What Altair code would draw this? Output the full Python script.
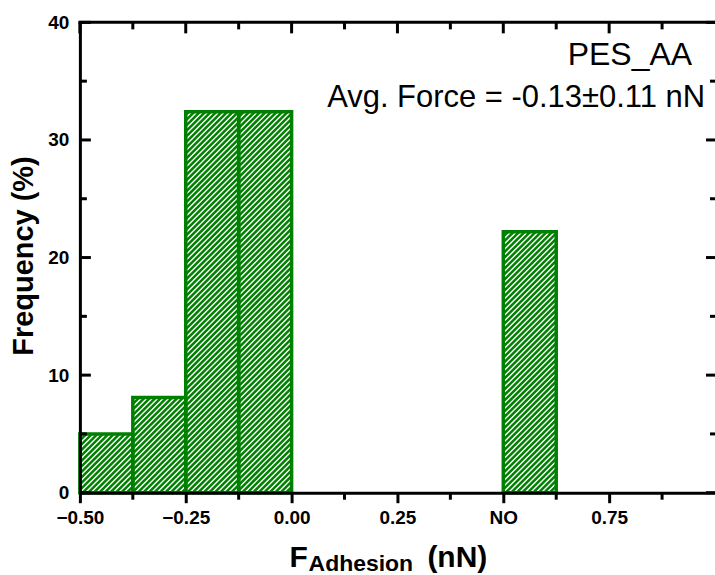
import altair as alt
import pandas as pd
import numpy as np

# ---- data ----
bin_start = [-0.5, -0.375, -0.25, -0.125, 0.5]
bin_end = [-0.375, -0.25, -0.125, 0.0, 0.625]
frequency = [5.0, 8.1, 32.4, 32.4, 22.2]

x_major = [-0.5, -0.25, 0.0, 0.25, 0.5, 0.75]
x_minor = [-0.375, -0.125, 0.125, 0.375, 0.625, 0.875]
y_major = [0, 10, 20, 30, 40]
y_minor = [5, 15, 25, 35]

sample_label = ["PES_AA"]
avg_label = ["Avg. Force = -0.13\u00b10.11 nN"]
y_title = ["Frequency (%)"]
x_title_main = ["F"]
x_title_sub = ["Adhesion"]
x_title_unit = ["(nN)"]

# ---- layout / style ----
W, H = 636, 471
XMIN, XMAX = -0.5, 1.0
YMIN, YMAX = 0, 40
GREEN = "#008000"
FONT = "Liberation Sans"

xs = alt.Scale(domain=[XMIN, XMAX], nice=False, zero=False)
ys = alt.Scale(domain=[YMIN, YMAX], nice=False, zero=False)

bars = pd.DataFrame({"start": bin_start, "end": bin_end, "freq": frequency})

# hatch pattern lines ("/" at 45 degrees in pixel space), clipped to each bar
px_x = W / (XMAX - XMIN)
px_y = H / (YMAX - YMIN)
period = 5.5
rows = []
for s, e, f in zip(bin_start, bin_end, frequency):
    X0 = (s - XMIN) * px_x
    X1 = (e - XMIN) * px_x
    Yh = f * px_y
    kmin = int(np.floor(-X1 / period))
    kmax = int(np.ceil((Yh - X0) / period))
    for k in range(kmin, kmax + 1):
        C = k * period
        a = max(X0, -C)
        b = min(X1, Yh - C)
        if b - a > 0.3:
            rows.append({"hx": a / px_x + XMIN, "hy": (a + C) / px_y,
                         "hx2": b / px_x + XMIN, "hy2": (b + C) / px_y})
hatch = pd.DataFrame(rows)

xmaj = pd.DataFrame({"v": x_major})
xmin_df = pd.DataFrame({"v": x_minor})
ymaj = pd.DataFrame({"v": y_major})
ymin_df = pd.DataFrame({"v": y_minor})

x_axis = alt.Axis(values=x_major, labelExpr="datum.value == 0.5 ? 'NO' : format(datum.value, '.2f')",
                  title=None, tickSize=10, tickWidth=3, tickColor="black", domainWidth=3,
                  domainColor="black", labelPadding=6, labelFont=FONT, labelFontSize=19,
                  labelFontWeight="bold", labelColor="black", grid=False, zindex=1,
                  labelFlush=False, labelOverlap=False)
y_axis = alt.Axis(values=y_major, title=None, ticks=False, tickSize=0, domainWidth=3,
                  domainColor="black", labelPadding=11, labelFont=FONT, labelFontSize=19,
                  labelFontWeight="bold", labelColor="black", grid=False, zindex=1,
                  labelFlush=False, labelOverlap=False)


def X(field):
    return alt.X(field, scale=xs, axis=x_axis, title=None)


def Y(field):
    return alt.Y(field, scale=ys, axis=y_axis, title=None)


fill = alt.Chart(bars).mark_rect(color=GREEN, strokeWidth=0).encode(
    x=X("start:Q"), x2="end:Q", y=Y("freq:Q"), y2=alt.datum(0),
)

hatch_layer = alt.Chart(hatch).mark_rule(color="white", strokeWidth=1.4).encode(
    x=X("hx:Q"), y=Y("hy:Q"), x2="hx2:Q", y2="hy2:Q",
)

outline = alt.Chart(bars).mark_rect(fillOpacity=0, stroke=GREEN, strokeWidth=3.5).encode(
    x=X("start:Q"), x2="end:Q", y=Y("freq:Q"), y2=alt.datum(0),
)

# frame (top)
top_line = alt.Chart(xmaj.head(1)).mark_rule(color="black", strokeWidth=3).encode(
    x=alt.value(-1.5), x2=alt.value(W + 1.5), y=alt.value(0))

tw = 3
bottom_minor = alt.Chart(xmin_df).mark_rule(color="black", strokeWidth=tw).encode(
    x=X("v:Q"), y=alt.value(H), y2=alt.value(H + 7))
top_major = alt.Chart(xmaj).mark_rule(color="black", strokeWidth=tw).encode(
    x=X("v:Q"), y=alt.value(0), y2=alt.value(11))
top_minor = alt.Chart(xmin_df).mark_rule(color="black", strokeWidth=tw).encode(
    x=X("v:Q"), y=alt.value(0), y2=alt.value(7))
left_major = alt.Chart(ymaj).mark_rule(color="black", strokeWidth=tw).encode(
    y=Y("v:Q"), x=alt.value(0), x2=alt.value(11))
left_minor = alt.Chart(ymin_df).mark_rule(color="black", strokeWidth=tw).encode(
    y=Y("v:Q"), x=alt.value(0), x2=alt.value(7))
right_major = alt.Chart(ymaj).mark_rule(color="black", strokeWidth=tw).encode(
    y=Y("v:Q"), x=alt.value(W + 1), x2=alt.value(W - 9))
right_minor = alt.Chart(ymin_df).mark_rule(color="black", strokeWidth=tw).encode(
    y=Y("v:Q"), x=alt.value(W + 1), x2=alt.value(W - 5))

# annotations
t1 = alt.Chart(pd.DataFrame({"t": sample_label})).mark_text(
    font=FONT, fontSize=32, align="right", baseline="alphabetic", color="black").encode(
    text="t:N", x=alt.value(613), y=alt.value(43))
t2 = alt.Chart(pd.DataFrame({"t": avg_label})).mark_text(
    font=FONT, fontSize=31, align="right", baseline="alphabetic", color="black").encode(
    text="t:N", x=alt.value(626), y=alt.value(85))

ytitle = alt.Chart(pd.DataFrame({"t": y_title})).mark_text(
    font=FONT, fontSize=29, fontWeight="bold", angle=270, align="center",
    baseline="alphabetic", color="black").encode(
    text="t:N", x=alt.value(-47), y=alt.value(234))

xt1 = alt.Chart(pd.DataFrame({"t": x_title_main})).mark_text(
    font=FONT, fontSize=30, fontWeight="bold", align="left", baseline="alphabetic",
    color="black").encode(text="t:N", x=alt.value(210), y=alt.value(545))
xt2 = alt.Chart(pd.DataFrame({"t": x_title_sub})).mark_text(
    font=FONT, fontSize=23, fontWeight="bold", align="left", baseline="alphabetic",
    color="black").encode(text="t:N", x=alt.value(229), y=alt.value(549))
xt3 = alt.Chart(pd.DataFrame({"t": x_title_unit})).mark_text(
    font=FONT, fontSize=30, fontWeight="bold", align="left", baseline="alphabetic",
    color="black").encode(text="t:N", x=alt.value(348), y=alt.value(545))

chart = alt.layer(
    fill, hatch_layer, outline,
    top_line,
    bottom_minor, top_major, top_minor, left_major, left_minor, right_major, right_minor,
    t1, t2, ytitle, xt1, xt2, xt3,
).properties(
    width=W, height=H,
    autosize=alt.AutoSizeParams(type="none"),
    padding={"left": 80, "top": 22, "right": 0, "bottom": 82},
    background="white",
).configure_view(strokeWidth=0)

chart.save("out.html", embed_options={"renderer": "svg", "actions": False})
